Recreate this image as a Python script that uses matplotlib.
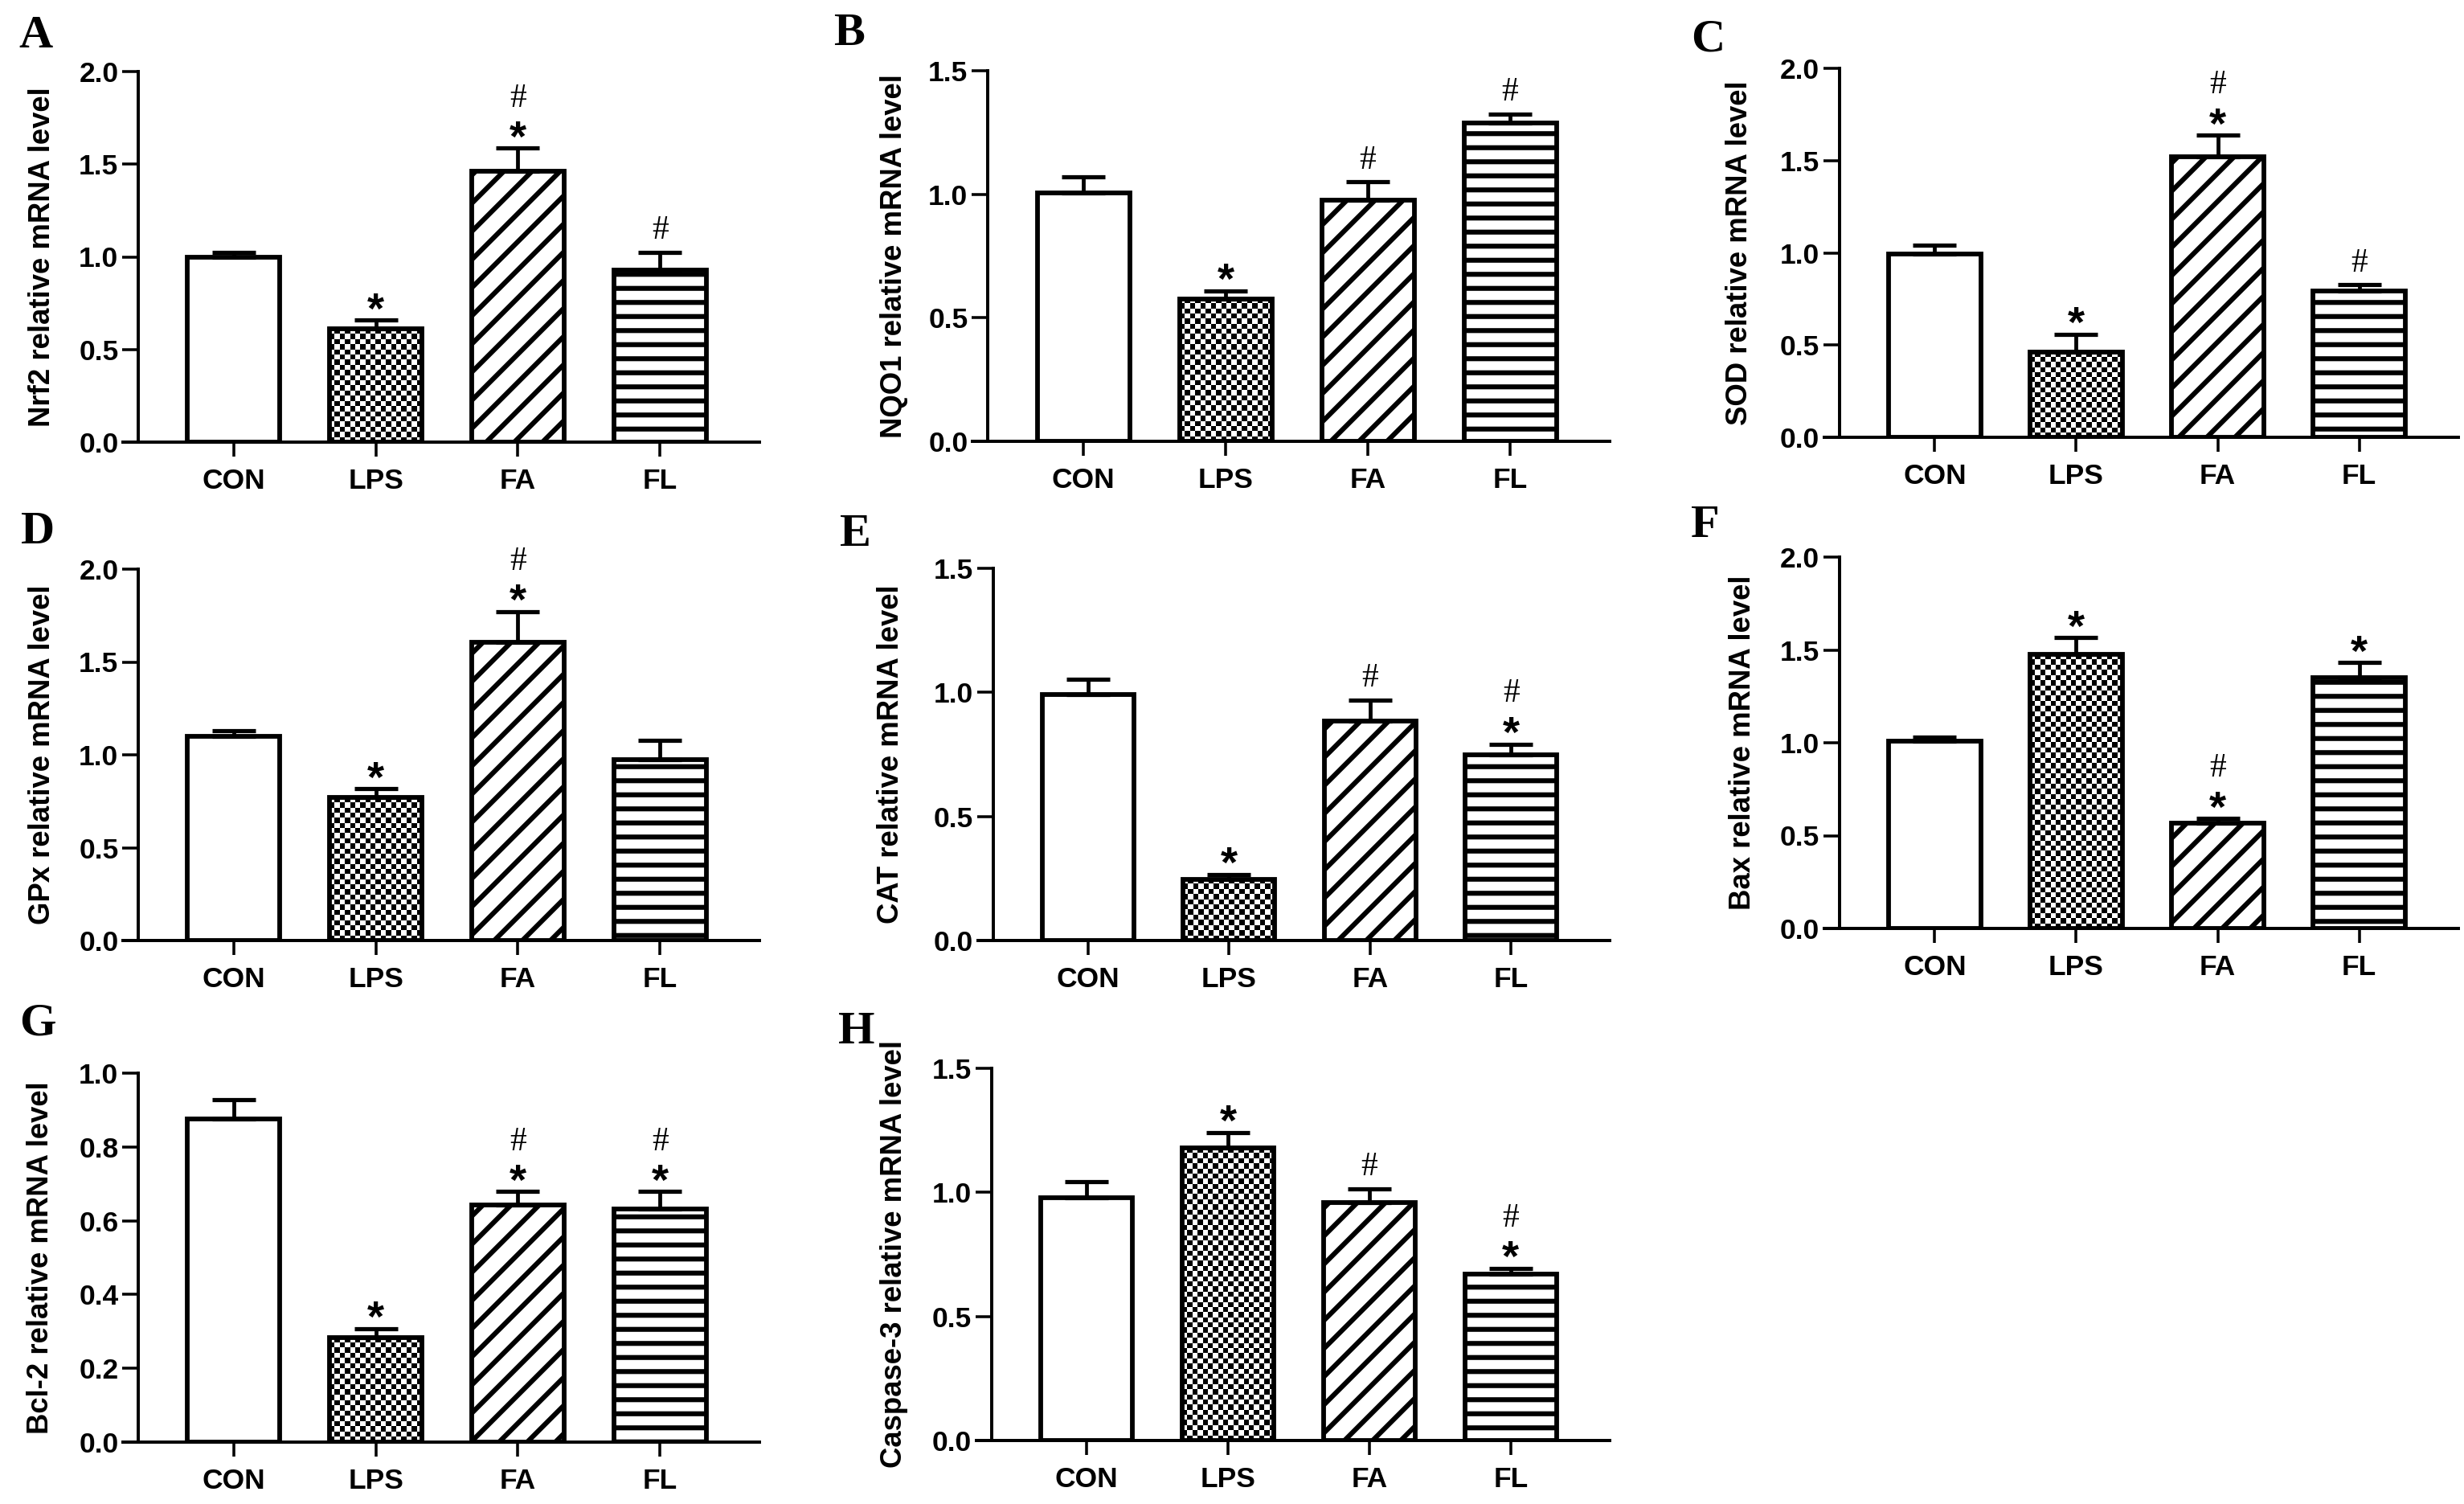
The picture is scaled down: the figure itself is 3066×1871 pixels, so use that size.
import numpy as np
import matplotlib
matplotlib.use('Agg')
import matplotlib.pyplot as plt
from matplotlib.ticker import FormatStrFormatter, MultipleLocator

W, H = 3066, 1871
DPI = 210
S = 150 / DPI  # sizes below were tuned in points at 150 dpi

plt.rcParams['font.family'] = ['Liberation Sans', 'DejaVu Sans']
plt.rcParams['hatch.linewidth'] = 2.1

groups = ['CON', 'LPS', 'FA', 'FL']

nrf2 = [1.00, 0.61, 1.46, 0.93]
nrf2_err = [0.022, 0.048, 0.126, 0.096]
nrf2_sig = ['', '*', '*#', '#']

nqo1 = [1.005, 0.576, 0.975, 1.289]
nqo1_err = [0.065, 0.033, 0.075, 0.035]
nqo1_sig = ['', '*', '#', '#']

sod = [0.992, 0.461, 1.522, 0.792]
sod_err = [0.050, 0.098, 0.117, 0.035]
sod_sig = ['', '*', '*#', '#']

gpx = [1.099, 0.770, 1.604, 0.972]
gpx_err = [0.031, 0.047, 0.167, 0.108]
gpx_sig = ['', '*', '*#', '']

cat = [0.991, 0.247, 0.886, 0.747]
cat_err = [0.063, 0.020, 0.082, 0.045]
cat_sig = ['', '*', '#', '*#']

bax = [1.008, 1.475, 0.567, 1.350]
bax_err = [0.024, 0.090, 0.025, 0.082]
bax_sig = ['', '*', '*#', '*']

bcl2 = [0.875, 0.284, 0.643, 0.632]
bcl2_err = [0.053, 0.024, 0.036, 0.047]
bcl2_sig = ['', '*', '*#', '*#']

casp3 = [0.978, 1.178, 0.959, 0.670]
casp3_err = [0.065, 0.064, 0.054, 0.024]
casp3_sig = ['', '*', '#', '*#']

fig = plt.figure(figsize=(W / DPI, H / DPI), dpi=DPI)

# (letter, ylabel, values, errors, marks, ymax, ystep, left, right, top, zero, letter xy, ylabel x) in pixels
panels = [
    ('A', 'Nrf2 relative mRNA level', nrf2, nrf2_err, nrf2_sig, 2.0, 0.5, 153, 945, 89, 550, (44, 45), 53),
    ('B', 'NQO1 relative mRNA level', nqo1, nqo1_err, nqo1_sig, 1.5, 0.5, 1210, 2003, 88, 549, (1056, 42), 1113),
    ('C', 'SOD relative mRNA level', sod, sod_err, sod_sig, 2.0, 0.5, 2270, 3059, 85, 544, (2125, 50), 2165),
    ('D', 'GPx relative mRNA level', gpx, gpx_err, gpx_sig, 2.0, 0.5, 153, 945, 708, 1170, (47, 662), 53),
    ('E', 'CAT relative mRNA level', cat, cat_err, cat_sig, 1.5, 0.5, 1217, 2003, 707, 1170, (1064, 665), 1109),
    ('F', 'Bax relative mRNA level', bax, bax_err, bax_sig, 2.0, 0.5, 2270, 3059, 693, 1155, (2122, 654), 2169),
    ('G', 'Bcl-2 relative mRNA level', bcl2, bcl2_err, bcl2_sig, 1.0, 0.2, 153, 945, 1335, 1794, (47, 1274), 51),
    ('H', 'Caspase-3 relative mRNA level', casp3, casp3_err, casp3_sig, 1.5, 0.5, 1215, 2003, 1329, 1792, (1066, 1284), 1113),
]

XLIM = (-0.78, 3.70)
BW = 0.65
x = np.arange(len(groups))
STAR = 26 * S
HASH = 20 * S

for letter, ylab, vals, errs, sig, ymax, ystep, L, R, T, Z, lxy, labx in panels:
    ax = fig.add_axes([L / W, (H - Z) / H, (R - L) / W, (Z - T) / H])
    bars = ax.bar(x, vals, width=BW, color='white', edgecolor='black',
                  linewidth=2.8 * S, zorder=2)
    bars[2].set_hatch('//')
    bars[3].set_hatch('--')
    # checkered fill for LPS
    b = bars[1]
    bw_px = b.get_width() / (XLIM[1] - XLIM[0]) * (R - L)
    bh_px = b.get_height() / ymax * (Z - T)
    nx = max(1, int(round(bw_px / 6.4)))
    ny = max(1, int(round(bh_px / 6.4)))
    chk = np.add.outer(np.arange(ny), np.arange(nx)) % 2
    b.set_facecolor('none')
    im = ax.imshow(chk, extent=(b.get_x(), b.get_x() + b.get_width(), 0, b.get_height()),
                   origin='upper', cmap='binary', aspect='auto',
                   interpolation='nearest', zorder=1)
    im.set_clip_path(b)

    ax.errorbar(x, vals, yerr=[np.zeros(len(vals)), errs], fmt='none', ecolor='black',
                elinewidth=2.3 * S, capsize=13 * S, capthick=2.5 * S, zorder=3)

    for i in range(len(groups)):
        top = vals[i] + errs[i]
        if '*' in sig[i]:
            ys = top + 0.06 * ymax
            ax.annotate('*', xy=(x[i], ys), xytext=(0, -0.575 * STAR), textcoords='offset points',
                        ha='center', va='baseline', fontsize=STAR, fontweight='bold',
                        annotation_clip=False)
            if '#' in sig[i]:
                yh = ys + 0.083 * ymax
                ax.annotate('#', xy=(x[i], yh), xytext=(0, -0.34 * HASH), textcoords='offset points',
                            ha='center', va='baseline', fontsize=HASH, family='Liberation Serif',
                            annotation_clip=False)
        elif '#' in sig[i]:
            yh = top + 0.067 * ymax
            ax.annotate('#', xy=(x[i], yh), xytext=(0, -0.34 * HASH), textcoords='offset points',
                        ha='center', va='baseline', fontsize=HASH, family='Liberation Serif',
                        annotation_clip=False)

    ax.set_xlim(XLIM)
    ax.set_ylim(0, ymax)
    ax.spines['top'].set_visible(False)
    ax.spines['right'].set_visible(False)
    ax.spines['left'].set_position(('data', -0.67))
    ax.spines['left'].set_linewidth(1.9 * S)
    ax.spines['bottom'].set_linewidth(1.9 * S)
    ax.yaxis.set_major_locator(MultipleLocator(ystep))
    ax.yaxis.set_major_formatter(FormatStrFormatter('%.1f'))
    ax.set_xticks(x)
    ax.set_xticklabels(groups)
    ax.tick_params(axis='y', length=9.5 * S, width=1.7 * S, pad=2.5 * S, labelsize=17 * S)
    ax.tick_params(axis='x', length=8.5 * S, width=1.7 * S, pad=7 * S, labelsize=17 * S)
    for lab in ax.get_xticklabels() + ax.get_yticklabels():
        lab.set_fontweight('bold')

    fig.text(labx / W, 1 - (T + Z) / 2 / H, ylab, rotation=90, ha='center', va='center',
             fontsize=17.5 * S, fontweight='bold')
    fig.text(lxy[0] / W, 1 - lxy[1] / H, letter, ha='center', va='center',
             fontsize=28 * S, fontweight='bold', family='Liberation Serif')

fig.savefig('out.png', dpi=DPI)
